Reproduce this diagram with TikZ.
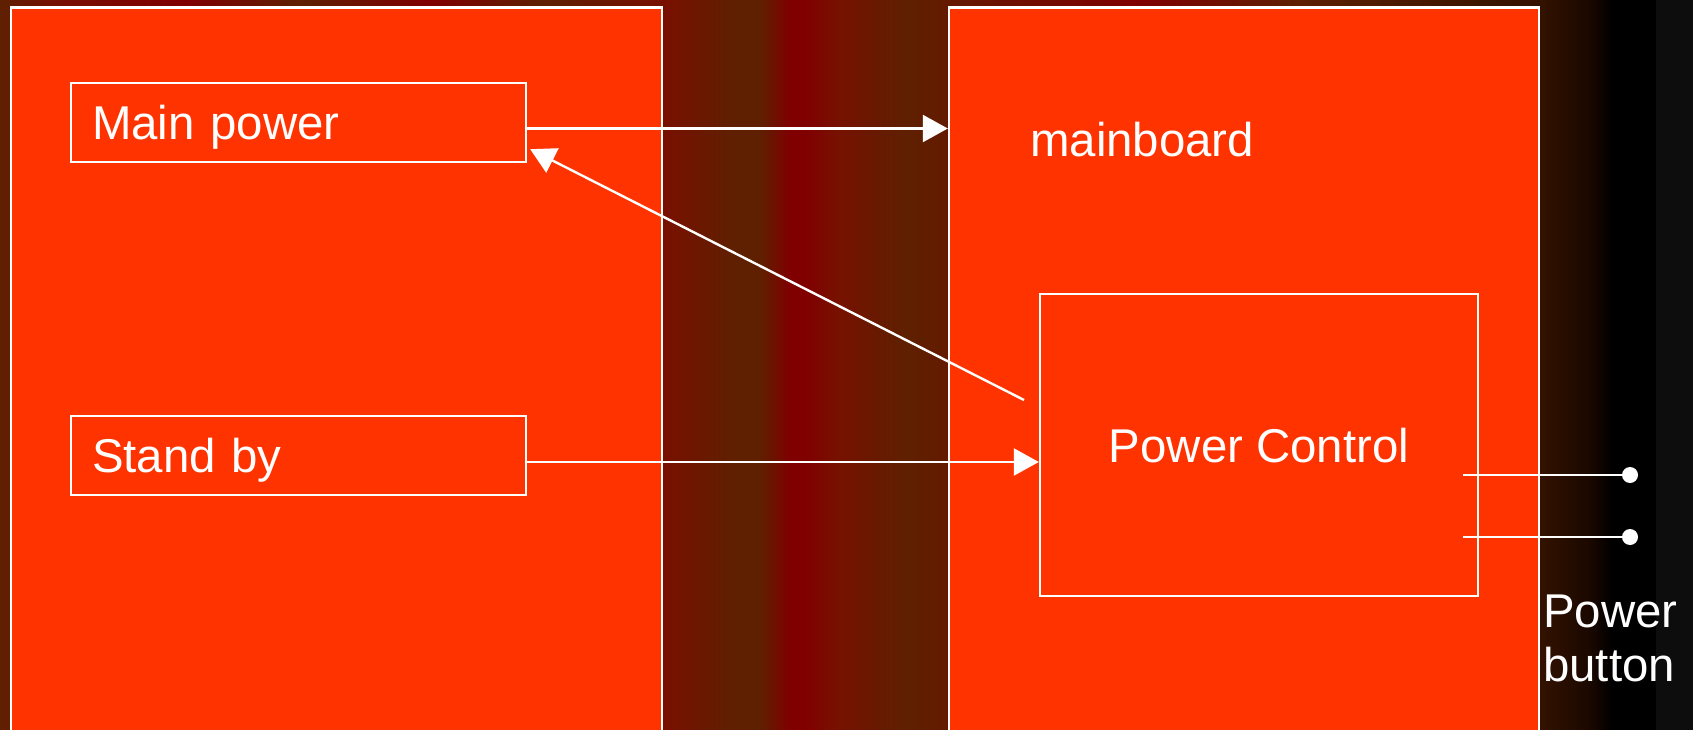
\documentclass[tikz,border=0pt]{standalone}
\usepackage{fontspec}
\setmainfont{Liberation Sans}
\usetikzlibrary{arrows.meta}

\definecolor{boardred}{HTML}{FF3300}
\definecolor{bgbrown}{HTML}{5E2000}
\definecolor{bgred}{HTML}{800000}
\definecolor{bgrust}{HTML}{781000}
\definecolor{bgdark}{HTML}{331200}
\definecolor{bgdeep}{HTML}{1A0800}
\definecolor{bggrey}{HTML}{0D0D0D}

\tikzset{
  txt/.style={text=white, font=\fontsize{47.4}{54}\selectfont},
  bigbox/.style={draw=white, fill=boardred, line width=2.4pt, inner sep=0pt},
  unitbox/.style={bigbox, txt, minimum height=79pt, text width=413pt,
    inner xsep=21pt, align=left, text depth=0pt},
  ctrlbox/.style={bigbox, txt, minimum width=438pt, minimum height=302pt,
    text depth=0pt},
  wire/.style={draw=white, line width=2.4pt},
  signal/.style={wire, -{Triangle[length=25pt,width=27pt]}},
  contact/.style={circle, fill=white, inner sep=0pt, minimum size=16pt}
}

\begin{document}
\begin{tikzpicture}[x=1pt, y=-1pt]
        \useasboundingbox (0,0) rectangle (1693,730);
        \clip (0,0) rectangle (1693,730);
        % background
        \foreach \xa/\ca/\xb/\cb in {0/bgbrown/60/bgrust, 60/bgrust/185/bgred,
            185/bgred/300/bgbrown, 300/bgbrown/430/bgred, 430/bgred/540/bgbrown,
            540/bgbrown/665/bgrust, 665/bgrust/735/bgbrown, 735/bgbrown/760/bgbrown,
            760/bgbrown/790/bgred, 790/bgred/805/bgred, 805/bgred/835/bgrust,
            835/bgrust/905/bgbrown, 905/bgbrown/1137/bgred, 1137/bgred/1300/bgbrown,
            1300/bgbrown/1540/bgdark, 1540/bgdark/1590/bgdeep, 1590/bgdeep/1612/black,
            1612/black/1656/black, 1656/bggrey/1693/bggrey}
          \shade[left color=\ca, right color=\cb] (\xa,0) rectangle (\xb,730);
        % nodes
        \node[bigbox, minimum width=651pt, minimum height=753pt] (psu)   at (336.5,384) {};
        \node[bigbox, minimum width=590pt, minimum height=753pt] (board) at (1244,384) {};
            \node[unitbox] (mainpower) at (298.5,122.5) {Main power};
            \node[unitbox] (standby)   at (298.5,455.5) {Stand by};
            \node[txt, anchor=west, inner sep=0pt, text depth=0pt] (boardname) at (1030,139) {mainboard};
            \node[ctrlbox] (pc) at (1259,445) {Power Control};
        \node[contact] (sw1) at (1630,475) {};
        \node[contact] (sw2) at (1630,537) {};
        \node[txt, anchor=north west, inner sep=0pt, align=left] (btnname) at (1543,595) {Power\\button};
        \coordinate (mpout) at ([yshift=-6pt]mainpower.east);
        \coordinate (sbout) at ([yshift=-6.5pt]standby.east);
        \coordinate (pcout) at (1024,400);
        \coordinate (pc1)   at (1463,475);
        \coordinate (pc2)   at (1463,537);
        % arrows
        \draw[signal] (mpout) -- (mpout -| board.west);
        \draw[signal] (sbout) -- (sbout -| pc.west);
        \draw[signal] (pcout) -- ([xshift=3pt,yshift=14pt]mainpower.south east);
        \draw[wire]   (pc1) -- (sw1.center);
        \draw[wire]   (pc2) -- (sw2.center);
\end{tikzpicture}
\end{document}
